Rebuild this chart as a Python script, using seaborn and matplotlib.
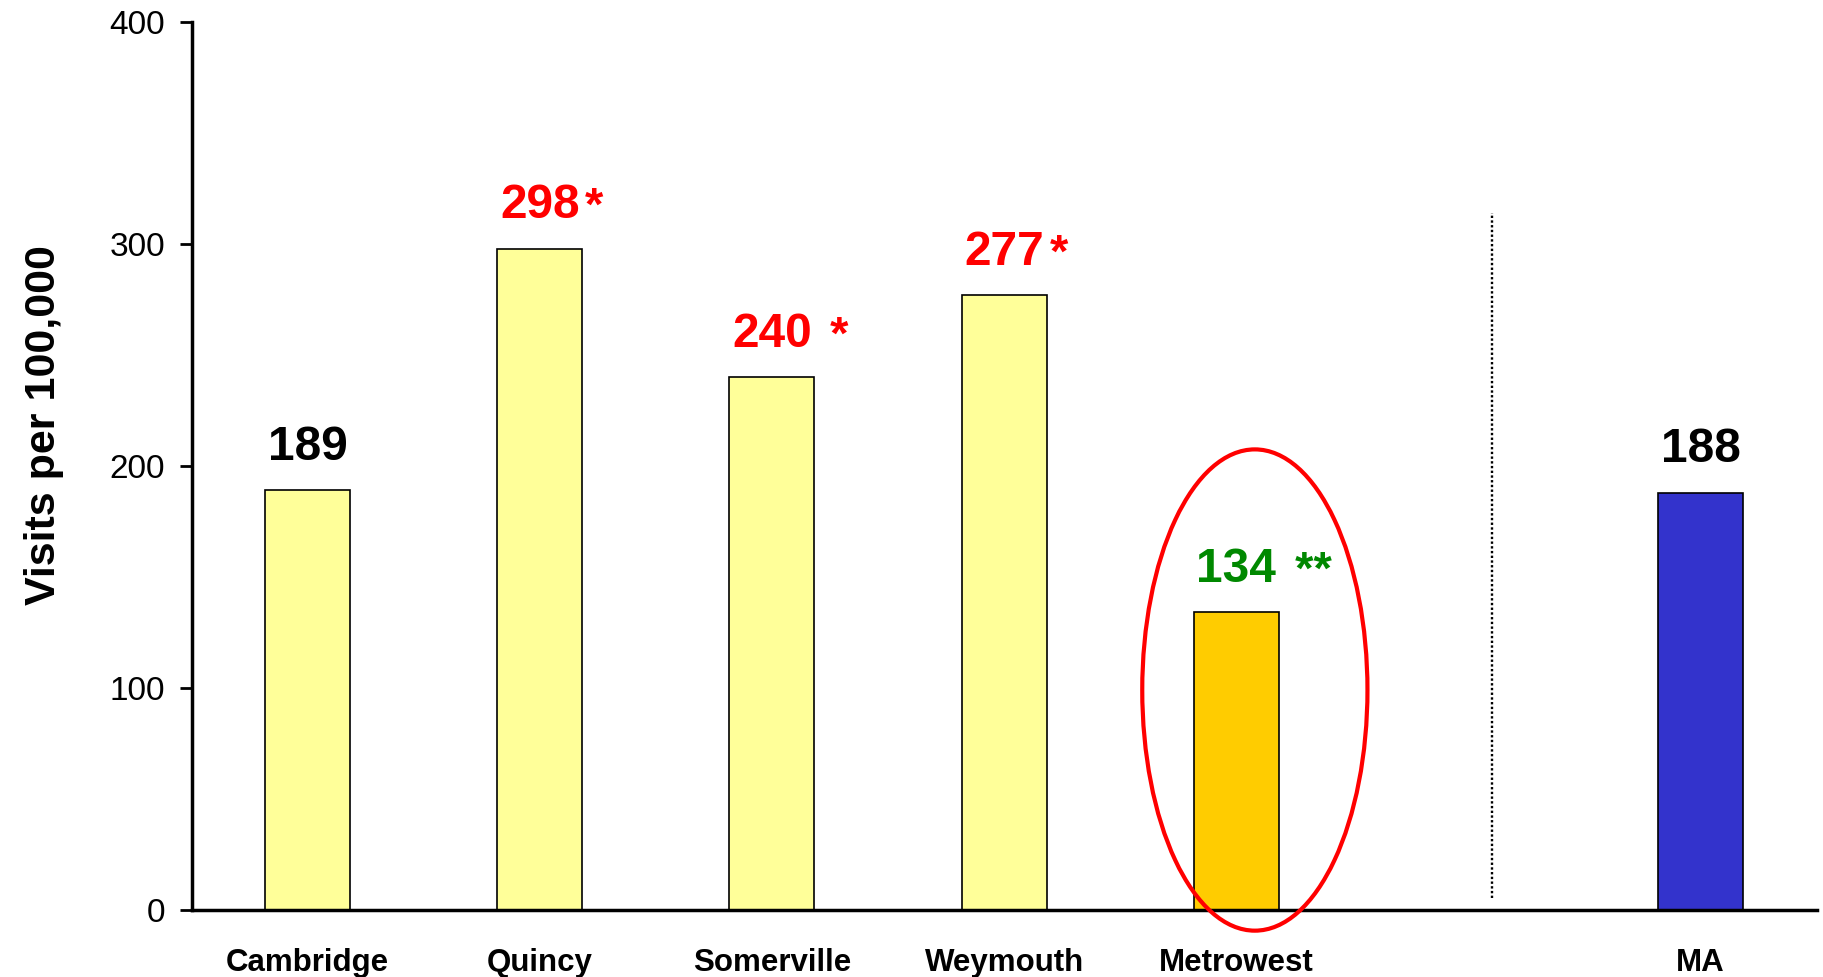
"""Bar chart: visits per 100,000 by community vs. MA."""
import matplotlib
matplotlib.use('Agg')
import matplotlib.pyplot as plt
from matplotlib.patches import Ellipse
import pandas as pd
import seaborn as sns

regions = ['Cambridge', 'Quincy', 'Somerville', 'Weymouth', 'Metrowest', 'MA']
rates = [189, 298, 240, 277, 134, 188]
value_labels = ['189', '298', '240', '277', '134', '188']
star_labels = ['', '*', ' *', '*', ' **', '']
label_colors = ['black', '#FF0000', '#FF0000', '#FF0000', '#008800', 'black']
bar_colors = ['#FFFF99', '#FFFF99', '#FFFF99', '#FFFF99', '#FFCC00', '#3333CC']
y_ticks = [0, 100, 200, 300, 400]

# empty slot between Metrowest and MA
order = regions[:5] + [' '] + regions[5:]

df = pd.DataFrame({'region': regions, 'rate': rates})

sns.set_style('white')
plt.rcParams['font.family'] = ['Liberation Sans', 'DejaVu Sans']
plt.rcParams.update({'text.color': 'black', 'axes.labelcolor': 'black',
                     'xtick.color': 'black', 'ytick.color': 'black'})

fig = plt.figure(figsize=(18.24, 9.77), dpi=100)
ax = fig.add_axes([0.105, 0.069, 0.891, 0.908])

sns.barplot(data=df, x='region', y='rate', order=order, hue='region',
            palette=dict(zip(regions, bar_colors)), legend=False,
            width=0.366, edgecolor='black', linewidth=1.2, ax=ax, saturation=1)

ax.set_xlim(-0.5, 6.5)
ax.set_ylim(0, 400)
ax.set_yticks(y_ticks)
ax.tick_params(axis='y', direction='out', length=8.6, width=2, pad=10.5,
               labelsize=24, left=True)
ax.tick_params(axis='x', length=0, pad=28)
for lbl in ax.get_xticklabels():
    lbl.set_fontsize(22.5)
    lbl.set_fontweight('bold')

sns.despine(ax=ax)
for side in ['left', 'bottom']:
    ax.spines[side].set_linewidth(2.5)
    ax.spines[side].set_color('black')

ax.set_xlabel('')
ax.set_ylabel('Visits per 100,000', fontsize=31, fontweight='bold', va='center')
ax.yaxis.set_label_coords(-0.091, 0.546)

# value labels with significance stars
for region, rate, txt, star, col in zip(regions, rates, value_labels, star_labels, label_colors):
    xpos = order.index(region)
    num = ax.annotate(txt, xy=(xpos, rate), xytext=(0, 22), textcoords='offset points',
                      ha='center', va='baseline', fontsize=34.5, fontweight='bold', color=col)
    if star:
        ax.annotate(star, xy=(1, 0), xycoords=num, xytext=(4, -1.5), textcoords='offset points',
                    ha='left', va='bottom', fontsize=34, fontweight='bold', color=col)

# dotted separator before state value
ax.plot([5.1, 5.1], [5, 314], linestyle=(0, (1, 1)), color='black', linewidth=1.7)

# highlight Metrowest
ell = Ellipse((4.08, 99), width=0.97, height=217, fill=False, edgecolor='#FF0000',
              linewidth=3.0, clip_on=False, zorder=5)
ax.add_patch(ell)

fig.savefig('out.png', dpi=100)
